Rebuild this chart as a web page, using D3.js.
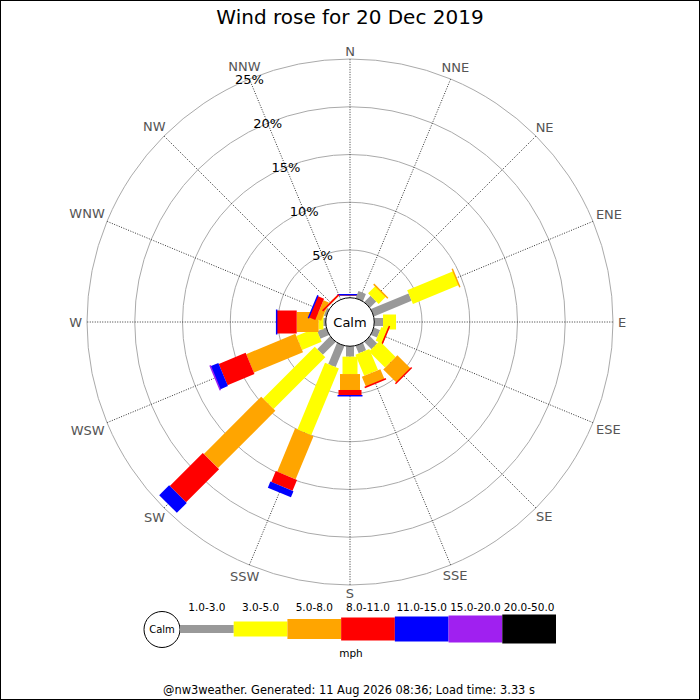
<!DOCTYPE html>
<html>
<head>
<meta charset="utf-8">
<script src="https://cdn.jsdelivr.net/npm/d3@7"></script>
<style>
  body { margin: 0; background: #fff; }
  svg { display: block; font-family: "DejaVu Sans", sans-serif; }
</style>
</head>
<body>
<svg id="chart" width="700" height="700"></svg>
<script>
// compass points, clockwise from N
var directions = ["N","NNE","NE","ENE","E","ESE","SE","SSE","S","SSW","SW","WSW","W","WNW","NW","NNW"];
var ranges = ["1.0-3.0","3.0-5.0","5.0-8.0","8.0-11.0","11.0-15.0","15.0-20.0","20.0-50.0"];
var ringTicks = [5, 10, 15, 20, 25];

// percent of time per speed range, one value per direction (null = nothing drawn, 0 = thin line)
var r1to3   = [0, 0.8, 0.92, 4.27, 0.92, 0.7, 1.06, 0.84, 1.09, 2.4, 1.9, 1.0, 0.25, 0.25, 0, null];
var r3to5   = [0, null, 1.1, 5.21, 1.36, 0.74, 2.37, 2.4, 1.82, 7.57, 7.66, 2.22, 0.5, 0.05, 0, null];
var r5to8   = [0, null, 0, 0, null, 0, 1.96, 1.15, 1.67, 4.89, 8.49, 5.57, 2.29, 0.6, 0, null];
var r8to11  = [0, null, null, null, null, 0, 0, 0, 0.6, 1.23, 4.89, 3.05, 2.1, 0.74, 0, null];
var r11to15 = [0, null, null, null, null, null, null, null, 0, 0.69, 1.47, 0.9, 0, 0, null, null];
var r15to20 = [null, null, null, null, null, null, null, null, null, null, null, 0, null, null, null, null];
var r20to50 = [null, null, null, null, null, null, null, null, null, null, null, null, null, null, null, null];
var series = [r1to3, r3to5, r5to8, r8to11, r11to15, r15to20, r20to50];

var colors = ["#999999", "#ffff00", "#ffa500", "#ff0000", "#0000ff", "#a020f0", "#000000"];
var legWidths = [8, 15, 20, 23, 25, 27, 29];

var cx = 350, cy = 322;
var calmR = 24.25;
var svg = d3.select("#chart");

var r = d3.scaleLinear().domain([0, 25]).range([calmR, 263]);
var angle = d3.scaleLinear().domain([0, directions.length]).range([0, 360]);

function polar(deg, rad) {
  var a = deg * Math.PI / 180;
  return [cx + rad * Math.sin(a), cy - rad * Math.cos(a)];
}

// frame
svg.append("rect").attr("x", 0.5).attr("y", 0.5).attr("width", 699).attr("height", 699)
  .attr("fill", "none").attr("stroke", "#000");

// title
svg.append("text").attr("x", 350).attr("y", 24).attr("text-anchor", "middle")
  .attr("font-size", 20).text("Wind rose for 20 Dec 2019");

var plot = svg.append("g");

// range rings
plot.selectAll("circle.ring").data(ringTicks).enter().append("circle")
  .attr("class", "ring").attr("cx", cx).attr("cy", cy).attr("r", function(d){ return r(d); })
  .attr("fill", "none").attr("stroke", "#aaa").attr("stroke-width", 1);

// spokes
plot.selectAll("line.spoke").data(directions).enter().append("line")
  .attr("class", "spoke")
  .attr("x1", function(d, i){ return polar(angle(i), calmR)[0]; })
  .attr("y1", function(d, i){ return polar(angle(i), calmR)[1]; })
  .attr("x2", function(d, i){ return polar(angle(i), r(25))[0]; })
  .attr("y2", function(d, i){ return polar(angle(i), r(25))[1]; })
  .attr("stroke", "#333").attr("stroke-width", 1).attr("stroke-dasharray", "1,1.5");

// compass labels
plot.selectAll("text.dir").data(directions).enter().append("text")
  .attr("class", "dir").attr("text-anchor", "middle").attr("dominant-baseline", "central")
  .attr("font-size", 13).attr("fill", "#555")
  .text(function(d){ return d; })
  .each(function(d, i) {
    var hw = this.getComputedTextLength() / 2;
    var a = angle(i);
    var p = polar(a, 271 + Math.max(0, hw - 3) * Math.abs(Math.sin(a * Math.PI / 180)));
    d3.select(this).attr("x", p[0]).attr("y", p[1]);
  });

// legs
directions.forEach(function(dir, i) {
  var g = plot.append("g").attr("transform", "translate(" + cx + "," + cy + ") rotate(" + angle(i) + ")");
  var cum = 0;
  series.forEach(function(vals, k) {
    var v = vals[i];
    if (v === null || v === undefined) return;
    var w = legWidths[k];
    if (v === 0) {
      var rr = Math.max(r(cum), calmR + 3);
      g.append("line").attr("x1", -w / 2).attr("x2", w / 2).attr("y1", -rr).attr("y2", -rr)
        .attr("stroke", colors[k]).attr("stroke-width", 1.5);
    } else {
      g.append("rect").attr("x", -w / 2).attr("width", w)
        .attr("y", -r(cum + v)).attr("height", r(cum + v) - r(cum))
        .attr("fill", colors[k]);
      cum += v;
    }
  });
});

// calm circle
plot.append("circle").attr("cx", cx).attr("cy", cy).attr("r", calmR)
  .attr("fill", "#fff").attr("stroke", "#000").attr("stroke-width", 1);
plot.append("text").attr("x", cx).attr("y", cy).attr("text-anchor", "middle")
  .attr("dominant-baseline", "central").attr("font-size", 13).text("Calm");

// percent labels along NNW
plot.selectAll("text.pct").data(ringTicks).enter().append("text")
  .attr("class", "pct").attr("text-anchor", "middle").attr("dominant-baseline", "central")
  .attr("font-size", 13)
  .attr("x", function(d){ return polar(-22.5, r(d))[0]; })
  .attr("y", function(d){ return polar(-22.5, r(d))[1]; })
  .text(function(d){ return d + "%"; });

// legend
var legY = 629;
var lx = d3.scaleBand().domain(ranges).range([180, 556]);
var legend = svg.append("g");
legend.append("circle").attr("cx", 162).attr("cy", legY + 0.5).attr("r", 18)
  .attr("fill", "#fff").attr("stroke", "#000");
legend.append("text").attr("x", 162).attr("y", legY + 0.5).attr("text-anchor", "middle")
  .attr("dominant-baseline", "central").attr("font-size", 10).text("Calm");
legend.selectAll("rect").data(ranges).enter().append("rect")
  .attr("x", function(d){ return lx(d); }).attr("width", lx.bandwidth())
  .attr("y", function(d, k){ return legY - legWidths[k] / 2; })
  .attr("height", function(d, k){ return legWidths[k]; })
  .attr("fill", function(d, k){ return colors[k]; });
legend.selectAll("text.rl").data(ranges).enter().append("text")
  .attr("class", "rl").attr("text-anchor", "middle").attr("font-size", 10.5)
  .attr("x", function(d){ return lx(d) + lx.bandwidth() / 2; }).attr("y", 611)
  .text(function(d){ return d; });
legend.append("text").attr("x", 351).attr("y", 657).attr("text-anchor", "middle")
  .attr("font-size", 10.5).text("mph");

// footer
svg.append("text").attr("x", 349).attr("y", 694).attr("text-anchor", "middle")
  .attr("font-size", 11.4).text("@nw3weather. Generated: 11 Aug 2026 08:36; Load time: 3.33 s");
</script>
</body>
</html>
